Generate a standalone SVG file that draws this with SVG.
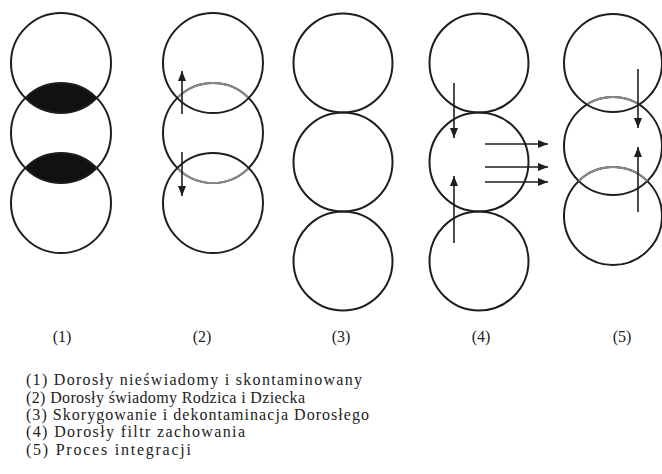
<svg xmlns="http://www.w3.org/2000/svg" width="662" height="474" viewBox="0 0 662 474">
<style>
.c{fill:none;stroke:#1e1e1e;stroke-width:2}
.g{fill:none;stroke:#8a8a8a;stroke-width:2}
.a{stroke:#1e1e1e;stroke-width:1.6;fill:none}
</style>
<defs>
<marker id="ah" viewBox="0 0 10 8" refX="10" refY="4" markerWidth="10" markerHeight="8" markerUnits="userSpaceOnUse" orient="auto">
<path d="M0,0 L10,4 L0,8 Z" fill="#1e1e1e"/>
</marker>
<clipPath id="c2top"><circle cx="213" cy="63" r="50"/></clipPath>
<clipPath id="c2bot"><circle cx="213" cy="203" r="50"/></clipPath>
<clipPath id="c5top"><circle cx="613" cy="63" r="49"/></clipPath>
<clipPath id="c5mid"><circle cx="613" cy="146" r="49"/></clipPath>
</defs>
<rect width="662" height="474" fill="#ffffff"/>

<g id="model1">
<path d="M25.3,98 A50,50 0 0 1 96.7,98 A50,50 0 0 1 25.3,98 Z" fill="#111"/>
<path d="M25.3,168 A50,50 0 0 1 96.7,168 A50,50 0 0 1 25.3,168 Z" fill="#111"/>
<circle class="c" cx="61" cy="63" r="50"/>
<circle class="c" cx="61" cy="133" r="50"/>
<circle class="c" cx="61" cy="203" r="50"/>
</g>

<g id="model2">
<circle class="c" cx="213" cy="133" r="50"/>
<circle class="g" cx="213" cy="133" r="50" clip-path="url(#c2top)"/>
<circle class="g" cx="213" cy="133" r="50" clip-path="url(#c2bot)"/>
<circle class="c" cx="213" cy="63" r="50"/>
<circle class="c" cx="213" cy="203" r="50"/>
</g>

<g id="model3">
<circle class="c" cx="343" cy="63" r="49.5"/>
<circle class="c" cx="343" cy="162" r="49.5"/>
<circle class="c" cx="343" cy="261" r="49.5"/>
</g>

<g id="model4">
<circle class="c" cx="479" cy="63" r="49.5"/>
<circle class="c" cx="479" cy="162" r="49.5"/>
<circle class="c" cx="479" cy="261" r="49.5"/>
</g>

<g id="model5">
<circle class="c" cx="613" cy="146" r="49"/>
<circle class="g" cx="613" cy="146" r="49" clip-path="url(#c5top)"/>
<circle class="c" cx="613" cy="216" r="49"/>
<circle class="g" cx="613" cy="216" r="49" clip-path="url(#c5mid)"/>
<circle class="c" cx="613" cy="63" r="49"/>
</g>

<g id="connectors">
<line class="a" x1="182" y1="114" x2="182" y2="71" marker-end="url(#ah)"/>
<line class="a" x1="182" y1="152" x2="182" y2="196" marker-end="url(#ah)"/>
<line class="a" x1="454" y1="83" x2="454" y2="138" marker-end="url(#ah)"/>
<line class="a" x1="454" y1="243" x2="454" y2="176" marker-end="url(#ah)"/>
<line class="a" x1="485" y1="144" x2="548" y2="144" marker-end="url(#ah)"/>
<line class="a" x1="485" y1="167" x2="548" y2="167" marker-end="url(#ah)"/>
<line class="a" x1="485" y1="182" x2="548" y2="182" marker-end="url(#ah)"/>
<line class="a" x1="638" y1="69" x2="638" y2="128" marker-end="url(#ah)"/>
<line class="a" x1="638" y1="212" x2="638" y2="147" marker-end="url(#ah)"/>
</g>

<g id="labels" fill="#222" text-anchor="middle">
<text x="62" y="342" font-family="Liberation Serif" font-size="16">(1)</text>
<text x="202" y="342" font-family="Liberation Serif" font-size="16">(2)</text>
<text x="341" y="342" font-family="Liberation Serif" font-size="16">(3)</text>
<text x="481" y="342" font-family="Liberation Serif" font-size="16">(4)</text>
<text x="622" y="342" font-family="Liberation Serif" font-size="16">(5)</text>
</g>

<g id="legend" fill="#222">
<text x="26" y="385" font-family="Liberation Serif" font-size="16" textLength="336" lengthAdjust="spacing">(1) Dorosły nieświadomy i skontaminowany</text>
<text x="26" y="403" font-family="Liberation Serif" font-size="16" textLength="279" lengthAdjust="spacing">(2) Dorosły świadomy Rodzica i Dziecka</text>
<text x="26" y="420" font-family="Liberation Serif" font-size="16" textLength="343" lengthAdjust="spacing">(3) Skorygowanie i dekontaminacja Dorosłego</text>
<text x="26" y="437" font-family="Liberation Serif" font-size="16" textLength="219" lengthAdjust="spacing">(4) Dorosły filtr zachowania</text>
<text x="26" y="455" font-family="Liberation Serif" font-size="16" textLength="165" lengthAdjust="spacing">(5) Proces integracji</text>
</g>
</svg>
